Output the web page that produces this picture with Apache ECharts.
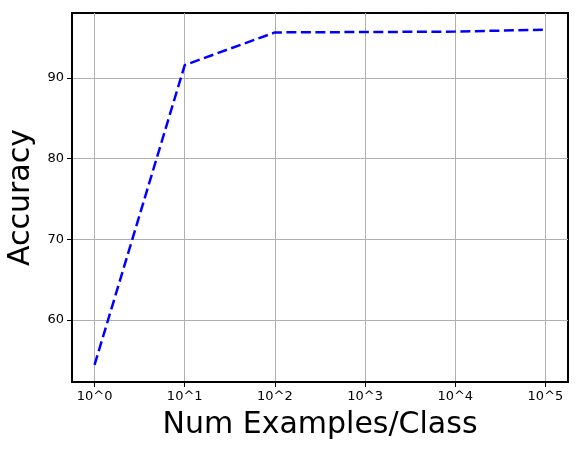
<!DOCTYPE html>
<html>
<head>
<meta charset="utf-8">
<script src="https://cdn.jsdelivr.net/npm/echarts@6/dist/echarts.min.js"></script>
<style>html,body{margin:0;padding:0;background:#fff}#c{width:581px;height:451px}</style>
</head>
<body>
<div id="c"></div>
<script>
const exponents = [0, 1, 2, 3, 4, 5];
const accuracy = [54.4, 91.6, 95.65, 95.7, 95.75, 96.0];
const xTickLabels = ['10^0', '10^1', '10^2', '10^3', '10^4', '10^5'];
const yTicks = [60, 70, 80, 90];

const chart = echarts.init(document.getElementById('c'));
const FONT = 'DejaVu Sans';
chart.setOption({
  animation: false,
  backgroundColor: '#fff',
  grid: { left: 72, right: 13, top: 13, bottom: 69, containLabel: false, outerBoundsMode: 'none',
    show: true, borderColor: '#000', borderWidth: 2, backgroundColor: 'transparent' },
  xAxis: {
    type: 'value', min: -0.25, max: 5.25,
    name: 'Num Examples/Class', nameLocation: 'middle', nameGap: 28,
    nameTextStyle: { fontFamily: FONT, fontSize: 30, color: '#000' },
    axisLine: { show: true, onZero: false, lineStyle: { color: '#000', width: 2 } },
    axisTick: { show: true, length: 5, customValues: exponents, lineStyle: { color: '#000', width: 1 } },
    axisLabel: { customValues: exponents, fontFamily: FONT, fontSize: 13, color: '#000', margin: 8,
      formatter: v => xTickLabels[exponents.indexOf(Math.round(v))] },
    splitLine: { show: true, customValues: exponents, lineStyle: { color: '#b0b0b0', width: 1 } }
  },
  yAxis: {
    type: 'value', min: 52.28, max: 98.06,
    name: 'Accuracy', nameLocation: 'middle', nameGap: 35, nameRotate: 90,
    nameTextStyle: { fontFamily: FONT, fontSize: 30, color: '#000' },
    axisLine: { show: true, onZero: false, lineStyle: { color: '#000', width: 2 } },
    axisTick: { show: true, length: 5, customValues: yTicks, lineStyle: { color: '#000', width: 1 } },
    axisLabel: { customValues: yTicks, fontFamily: FONT, fontSize: 13, color: '#000', margin: 8 },
    splitLine: { show: true, customValues: yTicks, lineStyle: { color: '#b0b0b0', width: 1 } }
  },
  series: [{
    type: 'line',
    data: exponents.map((e, i) => [e, accuracy[i]]),
    showSymbol: false,
    lineStyle: { color: '#0000ff', width: 2.5, type: [10, 4.5] },
    z: 5
  }]
});
</script>
</body>
</html>
